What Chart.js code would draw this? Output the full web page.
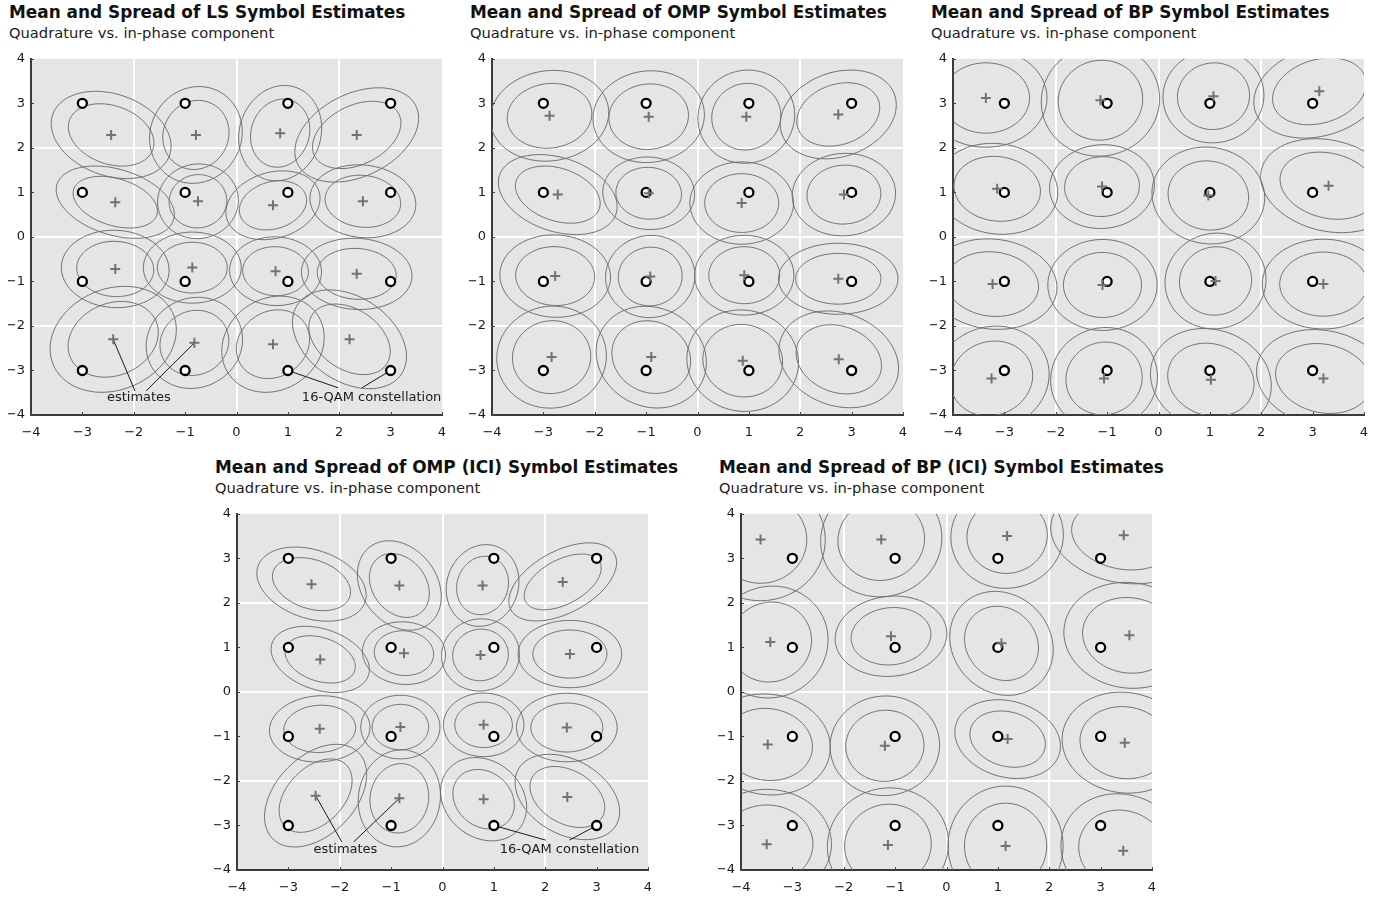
<!DOCTYPE html>
<html>
<head>
<meta charset="utf-8">
<script src="https://cdn.jsdelivr.net/npm/chart.js@4.4.1/dist/chart.umd.min.js"></script>
<style>
  html, body { margin: 0; padding: 0; background: #fff; }
  body { width: 1390px; height: 897px; position: relative; overflow: hidden; font-family: "DejaVu Sans", sans-serif; color: #111; }
  .ttl { position: absolute; font-size: 16.9px; font-weight: bold; line-height: 20px; white-space: nowrap; }
  .sub { position: absolute; font-size: 14.7px; line-height: 18px; white-space: nowrap; color: #222; }
  canvas { position: absolute; }
</style>
</head>
<body>
<script>
// Ideal 16-QAM constellation (row by row, Q = 3, 1, -1, -3; I = -3, -1, 1, 3)
const constellationI = [-3, -1, 1, 3, -3, -1, 1, 3, -3, -1, 1, 3, -3, -1, 1, 3];
const constellationQ = [3, 3, 3, 3, 1, 1, 1, 1, -1, -1, -1, -1, -3, -3, -3, -3];

// Axis ticks
const tickValues = [-4, -3, -2, -1, 0, 1, 2, 3, 4];
const gridValues = [-2, 0, 2];

// Spread contours drawn around each mean (inner and outer level)
const contourLevels = [1, 1.4];

// LS estimator: means and spread ellipses (semi-axes a, b and tilt in degrees)
const lsMeanI = [-2.44, -0.79, 0.85, 2.34, -2.36, -0.75, 0.71, 2.46, -2.36, -0.86, 0.76, 2.34, -2.40, -0.82, 0.71, 2.20];
const lsMeanQ = [2.29, 2.29, 2.33, 2.29, 0.78, 0.80, 0.71, 0.80, -0.72, -0.69, -0.77, -0.83, -2.30, -2.38, -2.41, -2.30];
const lsSpreadA = [0.88, 0.78, 0.77, 0.95, 0.86, 0.60, 0.68, 0.74, 0.75, 0.68, 0.64, 0.77, 0.94, 0.74, 0.80, 0.92];
const lsSpreadB = [0.64, 0.64, 0.57, 0.64, 0.52, 0.56, 0.52, 0.58, 0.62, 0.57, 0.55, 0.57, 0.78, 0.66, 0.68, 0.64];
const lsSpreadAngle = [-28, 80, 80, 35, -22, 80, 25, -10, -5, 0, -5, -5, 40, 70, 60, -45];

// OMP estimator
const ompMeanI = [-2.88, -0.95, 0.95, 2.74, -2.72, -0.95, 0.86, 2.85, -2.77, -0.92, 0.91, 2.74, -2.84, -0.90, 0.88, 2.75];
const ompMeanQ = [2.72, 2.70, 2.70, 2.75, 0.95, 0.98, 0.76, 0.95, -0.88, -0.89, -0.86, -0.94, -2.70, -2.70, -2.78, -2.75];
const ompSpreadA = [0.83, 0.78, 0.75, 0.85, 0.87, 0.64, 0.72, 0.72, 0.77, 0.66, 0.69, 0.83, 0.82, 0.84, 0.82, 0.88];
const ompSpreadB = [0.72, 0.73, 0.67, 0.66, 0.58, 0.58, 0.66, 0.66, 0.66, 0.62, 0.64, 0.57, 0.76, 0.74, 0.77, 0.72];
const ompSpreadAngle = [15, 20, 80, 30, -25, -10, 0, 10, -5, 80, 0, 0, 80, -60, -70, -35];

// BP estimator
const bpMeanI = [-3.36, -1.13, 1.07, 3.13, -3.14, -1.10, 0.97, 3.31, -3.23, -1.09, 1.11, 3.21, -3.25, -1.06, 1.02, 3.21];
const bpMeanQ = [3.12, 3.07, 3.16, 3.27, 1.08, 1.13, 0.93, 1.15, -1.06, -1.08, -0.99, -1.06, -3.18, -3.18, -3.21, -3.18];
const bpSpreadA = [0.85, 0.90, 0.75, 0.95, 0.85, 0.73, 0.80, 0.97, 0.90, 0.76, 0.77, 0.85, 0.86, 0.82, 0.88, 0.95];
const bpSpreadB = [0.79, 0.82, 0.70, 0.70, 0.72, 0.67, 0.76, 0.72, 0.72, 0.73, 0.70, 0.72, 0.78, 0.74, 0.78, 0.76];
const bpSpreadAngle = [0, 80, 80, 25, -15, 10, -40, -20, -10, 0, 80, 0, 60, 80, -40, -20];

// OMP estimator with inter-carrier interference
const ompIciMeanI = [-2.55, -0.84, 0.78, 2.34, -2.38, -0.75, 0.74, 2.48, -2.39, -0.82, 0.80, 2.42, -2.47, -0.84, 0.80, 2.43];
const ompIciMeanQ = [2.42, 2.39, 2.39, 2.47, 0.73, 0.87, 0.83, 0.85, -0.83, -0.79, -0.74, -0.80, -2.33, -2.39, -2.41, -2.36];
const ompIciSpreadA = [0.80, 0.75, 0.66, 0.85, 0.72, 0.58, 0.58, 0.72, 0.70, 0.55, 0.56, 0.70, 0.92, 0.78, 0.70, 0.82];
const ompIciSpreadB = [0.54, 0.54, 0.50, 0.48, 0.48, 0.50, 0.54, 0.54, 0.53, 0.51, 0.51, 0.55, 0.58, 0.57, 0.56, 0.57];
const ompIciSpreadAngle = [-25, -65, 80, 35, -25, -10, 80, 0, 5, 0, 0, 0, 55, 85, -60, -40];

// BP estimator with inter-carrier interference
const bpIciMeanI = [-3.62, -1.27, 1.18, 3.45, -3.43, -1.08, 1.07, 3.56, -3.48, -1.20, 1.19, 3.47, -3.50, -1.14, 1.15, 3.44];
const bpIciMeanQ = [3.42, 3.42, 3.50, 3.52, 1.12, 1.25, 1.09, 1.27, -1.18, -1.21, -1.06, -1.14, -3.42, -3.44, -3.46, -3.57];
const bpIciSpreadA = [0.98, 0.92, 0.84, 1.03, 0.90, 0.78, 0.85, 0.92, 0.88, 0.80, 0.76, 0.88, 0.90, 0.92, 0.96, 0.94];
const bpIciSpreadB = [0.90, 0.84, 0.78, 0.76, 0.80, 0.64, 0.70, 0.84, 0.80, 0.76, 0.60, 0.80, 0.88, 0.84, 0.80, 0.84];
const bpIciSpreadAngle = [90, 80, 80, -15, 80, 10, -70, -20, -20, 80, -25, -20, 0, 80, 90, -60];

const SUBTITLE = 'Quadrature vs. in-phase component';
const FONT = '"DejaVu Sans", sans-serif';

// Callouts: label position and the point each leader line ends at
const calloutsTop = [
  { text: 'estimates', at: { x: -1.90, y: -3.60 }, legs: [{ from: { x: -1.976, y: -3.46 }, set: 'mean', idx: 12 }, { from: { x: -1.76, y: -3.46 }, set: 'mean', idx: 13 }] },
  { text: '16-QAM constellation', at: { x: 2.63, y: -3.60 }, legs: [{ from: { x: 1.98, y: -3.39 }, set: 'qam', idx: 14 }, { from: { x: 2.44, y: -3.39 }, set: 'qam', idx: 15 }] }
];
const calloutsBottom = [
  { text: 'estimates', at: { x: -1.89, y: -3.54 }, legs: [{ from: { x: -1.96, y: -3.37 }, set: 'mean', idx: 12 }, { from: { x: -1.73, y: -3.37 }, set: 'mean', idx: 13 }] },
  { text: '16-QAM constellation', at: { x: 2.47, y: -3.54 }, legs: [{ from: { x: 2.01, y: -3.33 }, set: 'qam', idx: 14 }, { from: { x: 2.47, y: -3.33 }, set: 'qam', idx: 15 }] }
];

const panels = [
  { title: 'Mean and Spread of LS Symbol Estimates', left: 31, top: 55, mI: lsMeanI, mQ: lsMeanQ, a: lsSpreadA, b: lsSpreadB, ang: lsSpreadAngle, callouts: calloutsTop },
  { title: 'Mean and Spread of OMP Symbol Estimates', left: 492, top: 55, mI: ompMeanI, mQ: ompMeanQ, a: ompSpreadA, b: ompSpreadB, ang: ompSpreadAngle, callouts: [] },
  { title: 'Mean and Spread of BP Symbol Estimates', left: 953, top: 55, mI: bpMeanI, mQ: bpMeanQ, a: bpSpreadA, b: bpSpreadB, ang: bpSpreadAngle, callouts: [] },
  { title: 'Mean and Spread of OMP (ICI) Symbol Estimates', left: 237, top: 510, mI: ompIciMeanI, mQ: ompIciMeanQ, a: ompIciSpreadA, b: ompIciSpreadB, ang: ompIciSpreadAngle, callouts: calloutsBottom },
  { title: 'Mean and Spread of BP (ICI) Symbol Estimates', left: 741, top: 510, mI: bpIciMeanI, mQ: bpIciMeanQ, a: bpIciSpreadA, b: bpIciSpreadB, ang: bpIciSpreadAngle, callouts: [] }
];

const PLOT_W = 411, PLOT_H = 360;
const PAD_L = 7, AXIS_Y_W = 23, PAD_R = 16, PAD_T = 10, AXIS_X_H = 30;

const fmtTick = v => (v < 0 ? '\u2212' + Math.abs(v) : String(v));

// Plot background
const panelBackground = {
  id: 'panelBackground',
  beforeDraw(chart) {
    const { ctx, chartArea: ca } = chart;
    ctx.save();
    ctx.fillStyle = '#e5e5e5';
    ctx.fillRect(ca.left, ca.top, ca.right - ca.left, ca.bottom - ca.top);
    ctx.restore();
  }
};

// Spread ellipses, inward tick marks and callouts
const spreadAndNotes = {
  id: 'spreadAndNotes',
  beforeDatasetsDraw(chart, args, opts) {
    const { ctx, chartArea: ca } = chart;
    const xs = chart.scales.x, ys = chart.scales.y;
    const p = opts.panel;

    ctx.save();
    ctx.beginPath();
    ctx.rect(ca.left, ca.top, ca.right - ca.left, ca.bottom - ca.top);
    ctx.clip();
    ctx.strokeStyle = '#707070';
    ctx.lineWidth = 1;
    for (let i = 0; i < p.mI.length; i++) {
      const th = p.ang[i] * Math.PI / 180;
      const c = Math.cos(th), s = Math.sin(th);
      for (const k of contourLevels) {
        const A = p.a[i] * k, B = p.b[i] * k;
        ctx.beginPath();
        const n = 120;
        for (let j = 0; j <= n; j++) {
          const t = 2 * Math.PI * j / n;
          const ex = A * Math.cos(t), ey = B * Math.sin(t);
          const px = xs.getPixelForValue(p.mI[i] + ex * c - ey * s);
          const py = ys.getPixelForValue(p.mQ[i] + ex * s + ey * c);
          if (j === 0) ctx.moveTo(px, py); else ctx.lineTo(px, py);
        }
        ctx.stroke();
      }
    }
    ctx.restore();

    // inward tick marks on both axes
    ctx.save();
    ctx.strokeStyle = '#444';
    ctx.lineWidth = 1;
    ctx.beginPath();
    for (const v of tickValues) {
      const px = Math.round(xs.getPixelForValue(v)) + 0.5;
      ctx.moveTo(px, ca.bottom);
      ctx.lineTo(px, ca.bottom - 3);
      const py = Math.round(ys.getPixelForValue(v)) + 0.5;
      ctx.moveTo(ca.left, py);
      ctx.lineTo(ca.left + 3, py);
    }
    ctx.stroke();
    ctx.restore();

    // callouts
    ctx.save();
    ctx.strokeStyle = '#1a1a1a';
    ctx.lineWidth = 1;
    ctx.fillStyle = '#1a1a1a';
    ctx.font = '13px ' + FONT;
    ctx.textAlign = 'center';
    ctx.textBaseline = 'middle';
    for (const note of p.callouts) {
      for (const leg of note.legs) {
        const tx = leg.set === 'mean' ? p.mI[leg.idx] : constellationI[leg.idx];
        const ty = leg.set === 'mean' ? p.mQ[leg.idx] : constellationQ[leg.idx];
        ctx.beginPath();
        ctx.moveTo(xs.getPixelForValue(leg.from.x), ys.getPixelForValue(leg.from.y));
        ctx.lineTo(xs.getPixelForValue(tx), ys.getPixelForValue(ty));
        ctx.stroke();
      }
      ctx.fillText(note.text, xs.getPixelForValue(note.at.x), ys.getPixelForValue(note.at.y));
    }
    ctx.restore();
  }
};

function axisOptions(isX) {
  return {
    type: 'linear',
    min: -4,
    max: 4,
    afterFit(scale) { if (isX) scale.height = AXIS_X_H; else scale.width = AXIS_Y_W; },
    afterBuildTicks(scale) { scale.ticks = tickValues.map(v => ({ value: v })); },
    ticks: {
      autoSkip: false,
      padding: isX ? 10 : 6,
      color: '#1a1a1a',
      font: { family: FONT, size: 13 },
      callback: v => fmtTick(v)
    },
    grid: {
      drawTicks: false,
      lineWidth: 2,
      color: ctx => (ctx.tick && gridValues.includes(ctx.tick.value) ? '#ffffff' : 'rgba(0,0,0,0)')
    },
    border: { display: true, color: '#3a3a3a', width: 2 }
  };
}

panels.forEach((p) => {
  const t = document.createElement('div');
  t.className = 'ttl';
  t.textContent = p.title;
  t.style.left = (p.left - 22) + 'px';
  t.style.top = (p.top - 53) + 'px';
  document.body.appendChild(t);

  const s = document.createElement('div');
  s.className = 'sub';
  s.textContent = SUBTITLE;
  s.style.left = (p.left - 22) + 'px';
  s.style.top = (p.top - 31) + 'px';
  document.body.appendChild(s);

  const cv = document.createElement('canvas');
  const w = PAD_L + AXIS_Y_W + PLOT_W + PAD_R;
  const h = PAD_T + PLOT_H + AXIS_X_H;
  cv.width = w; cv.height = h;
  cv.style.width = w + 'px'; cv.style.height = h + 'px';
  cv.style.left = (p.left - AXIS_Y_W - PAD_L) + 'px';
  cv.style.top = (p.top - PAD_T) + 'px';
  document.body.appendChild(cv);

  new Chart(cv, {
    type: 'scatter',
    data: {
      datasets: [
        {
          label: '16-QAM constellation',
          data: constellationI.map((x, i) => ({ x, y: constellationQ[i] })),
          pointStyle: 'circle',
          pointRadius: 4.5,
          pointBorderWidth: 2.3,
          borderColor: '#000',
          backgroundColor: '#fff',
          order: 1
        },
        {
          label: 'estimates',
          data: p.mI.map((x, i) => ({ x, y: p.mQ[i] })),
          pointStyle: 'cross',
          pointRadius: 5,
          pointBorderWidth: 2,
          borderColor: '#727272',
          backgroundColor: '#727272',
          order: 0
        }
      ]
    },
    options: {
      responsive: false,
      devicePixelRatio: 1,
      animation: false,
      events: [],
      layout: { padding: { left: PAD_L, right: PAD_R, top: PAD_T, bottom: 0 } },
      scales: { x: axisOptions(true), y: axisOptions(false) },
      plugins: {
        legend: { display: false },
        tooltip: { enabled: false },
        spreadAndNotes: { panel: p }
      }
    },
    plugins: [panelBackground, spreadAndNotes]
  });
});
</script>
</body>
</html>
